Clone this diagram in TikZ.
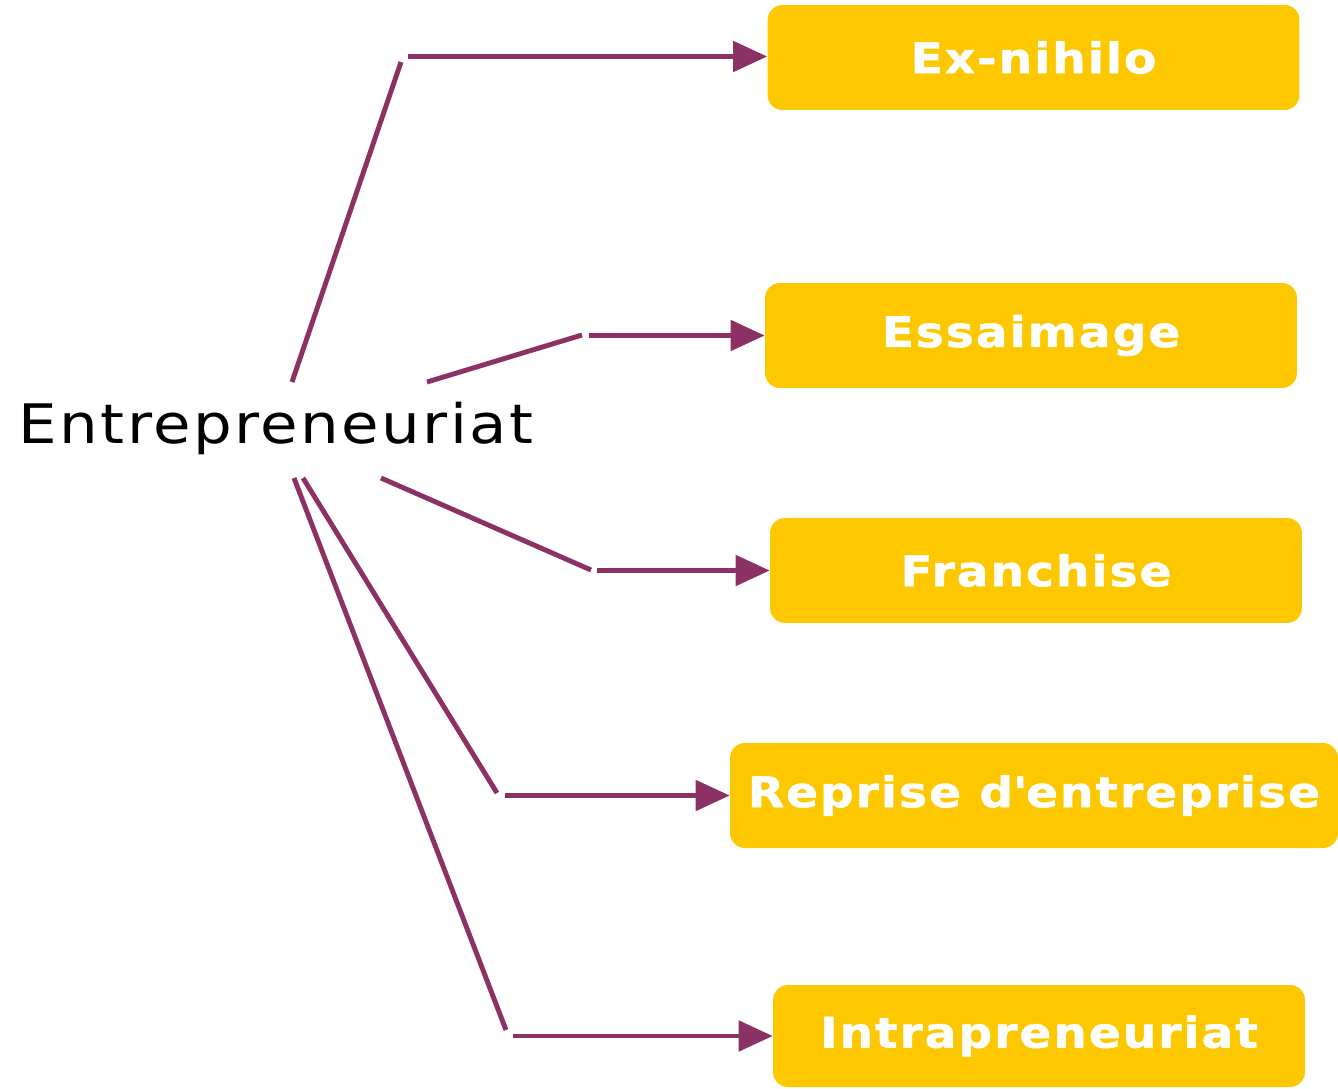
\documentclass[tikz,border=0pt]{standalone}
\usepackage{fontspec}
\setmainfont{DejaVu Sans}[FakeStretch=1.12, LetterSpace=4.5, BoldFeatures={FakeBold=1.2}]
\usetikzlibrary{arrows.meta}

\definecolor{plum}{HTML}{8C3163}
\definecolor{gold}{HTML}{FDC800}

\begin{document}
\begin{tikzpicture}[x=0.02cm, y=-0.02cm,
    kind/.style={fill=gold, rounded corners=0.3cm, minimum width=10.64cm, minimum height=2.1cm,
                 text=white, font=\fontsize{24}{28}\selectfont\bfseries, inner sep=0pt},
    link/.style={plum, line width=2.8pt},
    linkarrow/.style={link, -{Triangle[length=0.68cm, width=0.6cm]}}]
    \useasboundingbox (0,0) rectangle (1338,1088);

    % Root
    \node (root) at (276,428) {\fontsize{31}{36}\selectfont Entrepreneuriat};

    % Kinds
    \node[kind] (exn) at (1033.5,57.5) {Ex-nihilo};
    \node[kind] (ess) at (1031,335.5) {Essaimage};
    \node[kind] (fra) at (1036,570.5) {Franchise};
    \node[kind, minimum width=12.16cm] (rep) at (1034,795.5) {Reprise d\textquotesingle entreprise};
    \node[kind, minimum height=2.04cm] (intra) at (1039,1036) {Intrapreneuriat};

    % Bends
    \coordinate (s1) at (292,382);  \coordinate (k1) at (401,62);   \coordinate (h1) at (408,56.5);
    \coordinate (s2) at (427,382);  \coordinate (k2) at (582,335);  \coordinate (h2) at (589,335.5);
    \coordinate (s3) at (381,478);  \coordinate (k3) at (591,570);  \coordinate (h3) at (597,570.5);
    \coordinate (s4) at (303,478);  \coordinate (k4) at (497,793);  \coordinate (h4) at (505,795.5);
    \coordinate (s5) at (294,478);  \coordinate (k5) at (506,1030); \coordinate (h5) at (513,1036);

    % Connectors
    \draw[link] (s1) -- (k1);
    \draw[linkarrow] (h1) -- (h1 -| exn.west);
    \draw[link] (s2) -- (k2);
    \draw[linkarrow] (h2) -- (h2 -| ess.west);
    \draw[link] (s3) -- (k3);
    \draw[linkarrow] (h3) -- (h3 -| fra.west);
    \draw[link] (s4) -- (k4);
    \draw[linkarrow] (h4) -- (h4 -| rep.west);
    \draw[link] (s5) -- (k5);
    \draw[linkarrow] (h5) -- (h5 -| intra.west);
\end{tikzpicture}
\end{document}
